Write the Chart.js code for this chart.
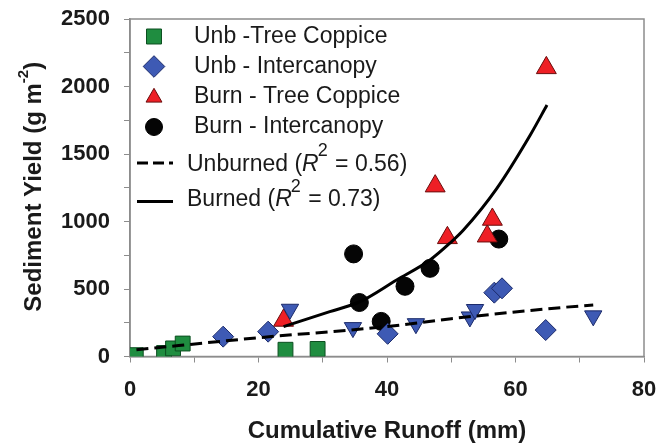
<!DOCTYPE html>
<html>
<head>
<meta charset="utf-8">
<script src="https://cdn.jsdelivr.net/npm/chart.js@4/dist/chart.umd.min.js"></script>
<style>
  html, body { margin: 0; padding: 0; background: #ffffff; }
  #wrap { width: 658px; height: 443px; }
</style>
</head>
<body>
<div id="wrap"><canvas id="chart" width="658" height="443"></canvas></div>
<script>
// Axis tick labels
const xTickLabels = [0, 20, 40, 60, 80];
const yTickLabels = [0, 500, 1000, 1500, 2000, 2500];

// Observations: [cumulative runoff (mm), sediment yield (g m-2)]
const unbTreeCoppice   = [[0.9, 10], [5.3, 26], [6.7, 60], [8.2, 96], [24.2, 50], [29.2, 56]];
const unbIntercanopy   = [[14.5, 147], [21.5, 184], [40.1, 168], [56.7, 473], [57.9, 505], [64.7, 196]];
const unbIntercanopyB  = [[24.9, 350], [34.7, 214], [44.5, 243], [52.9, 293], [53.7, 348], [72.1, 301]];
const burnTreeCoppice  = [[23.9, 267], [47.5, 1262], [49.4, 879], [55.6, 891], [56.4, 1015], [64.8, 2138]];
const burnIntercanopy  = [[34.8, 760], [35.7, 400], [39.1, 260], [42.8, 520], [46.7, 653], [57.4, 870]];

// Fitted curves
const unburnedFit = [[1, 50], [20, 139], [40, 222], [50, 280], [67, 362], [72.1, 381]];
const burnedFit   = [[23.9, 221], [31.1, 332], [35.8, 406], [41.5, 567], [46.7, 715], [49.8, 840],
                     [51.9, 937], [57.1, 1246], [62.3, 1641], [64.9, 1863]];

const legendLabels = ['Unb -Tree Coppice', 'Unb - Intercanopy', 'Burn - Tree Coppice', 'Burn - Intercanopy'];
const fitLabels = [['Unburned (', '0.56)'], ['Burned (', '0.73)']];

const FONT = "'Liberation Sans', Arial, Helvetica, sans-serif";
const TEXT = '#1a1a1a';
const AXIS = '#8c8c8c';

const toXY = arr => arr.map(([x, y]) => ({ x, y }));

const styles = {
  green: { pointStyle: 'rect', backgroundColor: '#1f8d40', borderColor: '#0c4f20', borderWidth: 1 },
  blue:  { pointStyle: 'rectRot', backgroundColor: '#3e5ab4', borderColor: '#1b2a6a', borderWidth: 1 },
  red:   { pointStyle: 'triangle', backgroundColor: '#ee1f25', borderColor: '#6a0d0d', borderWidth: 1 },
  black: { pointStyle: 'circle', backgroundColor: '#050505', borderColor: '#000000', borderWidth: 1 }
};

function pointSet(label, data, st, radius, rotation) {
  return {
    label, data: toXY(data), showLine: false, order: 2,
    pointStyle: st.pointStyle, pointRadius: radius, pointHoverRadius: radius,
    pointRotation: rotation || 0,
    backgroundColor: st.backgroundColor, borderColor: st.borderColor,
    pointBackgroundColor: st.backgroundColor, pointBorderColor: st.borderColor,
    pointBorderWidth: st.borderWidth
  };
}

function fitSet(label, data, dash) {
  return {
    label, data: toXY(data), showLine: true, order: 0,
    borderColor: '#000000', borderWidth: 3, borderDash: dash,
    pointRadius: 0, pointHoverRadius: 0, fill: false,
    cubicInterpolationMode: 'monotone'
  };
}

// Legend drawn inside the plot area, top-left
const insetLegend = {
  id: 'insetLegend',
  afterDatasetsDraw(chart) {
    const ctx = chart.ctx;
    const { left, top } = chart.chartArea;
    const mx = left + 24;
    const markers = [
      [styles.green, 10.6, 0, top + 17.5],
      [styles.blue, 10.8, 0, top + 47.5],
      [styles.red, 9.2, 0, top + 78.5],
      [styles.black, 8.5, 0, top + 108]
    ];
    ctx.save();
    markers.forEach(([st, r, rot, y]) => {
      ctx.fillStyle = st.backgroundColor;
      ctx.strokeStyle = st.borderColor;
      ctx.lineWidth = st.borderWidth;
      Chart.helpers.drawPoint(ctx, { pointStyle: st.pointStyle, radius: r, rotation: rot, borderWidth: st.borderWidth }, mx, y);
    });
    ctx.fillStyle = TEXT;
    ctx.textBaseline = 'middle';
    ctx.textAlign = 'left';
    ctx.font = `23px ${FONT}`;
    const rowsY = [top + 17.7, top + 47.7, top + 77.5, top + 107.5];
    legendLabels.forEach((t, i) => ctx.fillText(t, left + 64, rowsY[i]));

    // fitted line samples
    const lineRows = [[top + 144, [11, 5]], [top + 182.5, []]];
    ctx.strokeStyle = '#000';
    ctx.lineWidth = 3;
    lineRows.forEach(([y, dash]) => {
      ctx.setLineDash(dash);
      ctx.beginPath();
      ctx.moveTo(left + 7, y);
      ctx.lineTo(left + 43, y);
      ctx.stroke();
    });
    ctx.setLineDash([]);

    const textRows = [top + 145.5, top + 181];
    fitLabels.forEach(([a, b], i) => {
      let x = left + 57;
      const y = textRows[i];
      ctx.font = `23px ${FONT}`;
      ctx.fillText(a, x, y); x += ctx.measureText(a).width;
      ctx.font = `italic 23px ${FONT}`;
      ctx.fillText('R', x, y); x += ctx.measureText('R').width;
      ctx.font = `18px ${FONT}`;
      ctx.fillText('2', x - 1, y - 13); x += ctx.measureText('2').width;
      ctx.font = `23px ${FONT}`;
      const rest = ' = ' + b;
      ctx.fillText(rest, x, y);
    });
    ctx.restore();
  }
};

// Plot frame and rotated y-axis title with superscript
const frameAndTitle = {
  id: 'frameAndTitle',
  beforeDatasetsDraw(chart) {
    const { ctx, chartArea: a } = chart;
    ctx.save();
    ctx.strokeStyle = AXIS;
    ctx.lineWidth = 1.5;
    ctx.strokeRect(a.left, a.top, a.right - a.left, a.bottom - a.top);
    ctx.restore();
  },
  afterDraw(chart) {
    const { ctx, chartArea: a } = chart;
    const main = 'Sediment Yield (g m';
    const sup = '-2';
    const tail = ')';
    ctx.save();
    ctx.fillStyle = TEXT;
    ctx.textBaseline = 'alphabetic';
    ctx.textAlign = 'left';
    ctx.font = `bold 24px ${FONT}`;
    const wMain = ctx.measureText(main).width;
    const wTail = ctx.measureText(tail).width;
    ctx.font = `bold 15px ${FONT}`;
    const wSup = ctx.measureText(sup).width;
    const total = wMain + wSup + wTail;
    const cy = (a.top + a.bottom) / 2 - 1;
    ctx.translate(41, cy);
    ctx.rotate(-Math.PI / 2);
    let x = -total / 2;
    ctx.font = `bold 24px ${FONT}`;
    ctx.fillText(main, x, 0); x += wMain;
    ctx.font = `bold 15px ${FONT}`;
    ctx.fillText(sup, x, -13); x += wSup;
    ctx.font = `bold 24px ${FONT}`;
    ctx.fillText(tail, x, 0);
    ctx.restore();
  }
};

new Chart(document.getElementById('chart'), {
  type: 'scatter',
  data: {
    datasets: [
      fitSet('Unburned', unburnedFit, [12, 6]),
      fitSet('Burned', burnedFit, []),
      pointSet('Unb -Tree Coppice', unbTreeCoppice, styles.green, 10.5),
      pointSet('Unb - Intercanopy', unbIntercanopy, styles.blue, 10.5),
      pointSet('Unb - Intercanopy (B)', unbIntercanopyB, { ...styles.blue, pointStyle: 'triangle' }, 10, 180),
      pointSet('Burn - Tree Coppice', burnTreeCoppice, styles.red, 11.5),
      pointSet('Burn - Intercanopy', burnIntercanopy, styles.black, 9)
    ]
  },
  options: {
    responsive: false,
    animation: false,
    devicePixelRatio: 1,
    layout: { autoPadding: false, padding: { top: 19, right: 14, left: 0, bottom: 0 } },
    plugins: { legend: { display: false }, tooltip: { enabled: false } },
    scales: {
      x: {
        type: 'linear', min: 0, max: 80,
        afterFit: s => { s.height = 86.5; s.paddingLeft = 0; s.paddingRight = 0; },
        border: { display: true, color: AXIS, width: 1.5 },
        grid: { display: true, drawOnChartArea: false, drawTicks: true, tickLength: 6, color: AXIS, lineWidth: 1 },
        ticks: {
          stepSize: 10, padding: 14, color: TEXT, maxRotation: 0, autoSkip: false,
          font: { family: FONT, size: 22, weight: 'bold' },
          callback: v => xTickLabels.includes(v) ? String(v) : ''
        },
        title: {
          display: true, text: 'Cumulative Runoff (mm)', color: TEXT,
          font: { family: FONT, size: 24, weight: 'bold', lineHeight: 1 },
          padding: { top: 0, bottom: 0 }
        }
      },
      y: {
        type: 'linear', min: 0, max: 2500,
        afterFit: s => { s.width = 130; s.paddingTop = 0; s.paddingBottom = 0; },
        border: { display: true, color: AXIS, width: 1.5 },
        grid: { display: true, drawOnChartArea: false, drawTicks: true, tickLength: 6, color: AXIS, lineWidth: 1 },
        ticks: {
          stepSize: 250, padding: 14, color: TEXT, autoSkip: false,
          font: { family: FONT, size: 22, weight: 'bold' },
          callback: v => yTickLabels.includes(v) ? String(v) : ''
        }
      }
    }
  },
  plugins: [frameAndTitle, insetLegend]
});
</script>
</body>
</html>
